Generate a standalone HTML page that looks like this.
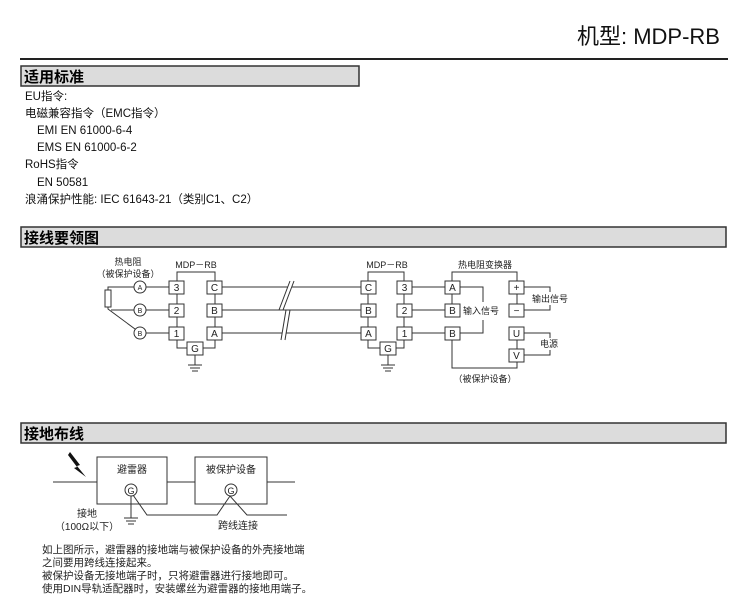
<!DOCTYPE html>
<html><head><meta charset="utf-8"><style>
body{margin:0;background:#fff;}
svg{display:block;font-family:"Liberation Sans","Noto Sans CJK SC",sans-serif;}
</style></head><body>
<svg width="745" height="614" viewBox="0 0 745 614" xmlns="http://www.w3.org/2000/svg">
<g fill="#111">
<text x="720" y="44" font-size="22" text-anchor="end">机型: MDP-RB</text>
</g>
<line x1="20" y1="59" x2="728" y2="59" stroke="#222" stroke-width="2"/>
<rect x="21" y="66" width="338" height="20" fill="#dcdcdc" stroke="#333" stroke-width="1.5"/>
<text x="24" y="82" font-size="15" font-weight="bold">适用标准</text>
<rect x="21" y="227" width="705" height="20" fill="#dcdcdc" stroke="#333" stroke-width="1.5"/>
<text x="24" y="243" font-size="15" font-weight="bold">接线要领图</text>
<rect x="21" y="423" width="705" height="20" fill="#dcdcdc" stroke="#333" stroke-width="1.5"/>
<text x="24" y="439" font-size="15" font-weight="bold">接地布线</text>
<g font-size="11.5" fill="#111">
<text x="25" y="100">EU指令:</text>
<text x="25" y="117">电磁兼容指令（EMC指令）</text>
<text x="37" y="134">EMI EN 61000-6-4</text>
<text x="37" y="151">EMS EN 61000-6-2</text>
<text x="25" y="168">RoHS指令</text>
<text x="37" y="186">EN 50581</text>
<text x="25" y="203">浪涌保护性能: IEC 61643-21（类别C1、C2）</text>
</g>
<g stroke="#333" stroke-width="1" fill="none">
<rect x="105" y="290" width="6" height="17" fill="#fff"/>
<polyline points="108,290 108,287 134,287"/>
<line x1="111" y1="310" x2="134" y2="310"/>
<polyline points="108,307 108,309 135,329"/>
<circle cx="140" cy="287" r="6" fill="#fff"/>
<circle cx="140" cy="310" r="6" fill="#fff"/>
<circle cx="140" cy="333" r="6" fill="#fff"/>
<line x1="146" y1="287" x2="169" y2="287"/>
<line x1="146" y1="310" x2="169" y2="310"/>
<line x1="146" y1="333" x2="169" y2="333"/>
<polyline points="177,281 177,272 215,272 215,281"/>
<line x1="177" y1="293" x2="177" y2="304"/><line x1="177" y1="316" x2="177" y2="327"/>
<line x1="215" y1="293" x2="215" y2="304"/><line x1="215" y1="316" x2="215" y2="327"/>
<polyline points="177,339 177,348 187,348"/><polyline points="215,339 215,348 203,348"/>
<line x1="195" y1="355" x2="195" y2="365"/>
<line x1="188" y1="365" x2="202" y2="365"/><line x1="190" y1="368" x2="200" y2="368"/><line x1="192" y1="371" x2="198" y2="371"/>
<line x1="222" y1="287" x2="361" y2="287"/>
<line x1="222" y1="310" x2="361" y2="310"/>
<line x1="222" y1="333" x2="361" y2="333"/>
<polyline points="368,281 368,272 404,272 404,281"/>
<line x1="368" y1="293" x2="368" y2="304"/><line x1="368" y1="316" x2="368" y2="327"/>
<line x1="404" y1="293" x2="404" y2="304"/><line x1="404" y1="316" x2="404" y2="327"/>
<polyline points="368,339 368,348 380,348"/><polyline points="404,339 404,348 396,348"/>
<line x1="388" y1="355" x2="388" y2="365"/>
<line x1="381" y1="365" x2="395" y2="365"/><line x1="383" y1="368" x2="393" y2="368"/><line x1="385" y1="371" x2="391" y2="371"/>
<line x1="411" y1="287" x2="445" y2="287"/>
<line x1="411" y1="310" x2="445" y2="310"/>
<line x1="411" y1="333" x2="445" y2="333"/>
<polyline points="452,281 452,272 517,272 517,281"/>
<line x1="452" y1="293" x2="452" y2="304"/>
<line x1="517" y1="293" x2="517" y2="304"/><line x1="517" y1="339" x2="517" y2="349"/>
<polyline points="452,339 452,368 517,368 517,361"/>
<polyline points="460,287 483,287 483,302"/>
<polyline points="460,333 483,333 483,320"/>
<polyline points="524,287 550,287 550,292"/>
<polyline points="524,310 550,310 550,305"/>
<polyline points="524,333 550,333 550,338"/>
<polyline points="524,355 550,355 550,350"/>
</g>
<polygon points="281,340 286,310 279,310 290,281 294,281 283,310 290,310 285,340" fill="#fff"/>
<polyline points="281,340 286,310 279,310 290,281" stroke="#333" fill="none"/>
<polyline points="285,340 290,310 283,310 294,281" stroke="#333" fill="none"/>
<g stroke="#333" fill="#fff">
<rect x="169" y="281" width="15" height="13"/><rect x="169" y="304" width="15" height="13"/><rect x="169" y="327" width="15" height="13"/>
<rect x="207" y="281" width="15" height="13"/><rect x="207" y="304" width="15" height="13"/><rect x="207" y="327" width="15" height="13"/>
<rect x="187" y="342" width="16" height="13"/>
<rect x="361" y="281" width="15" height="13"/><rect x="361" y="304" width="15" height="13"/><rect x="361" y="327" width="15" height="13"/>
<rect x="397" y="281" width="15" height="13"/><rect x="397" y="304" width="15" height="13"/><rect x="397" y="327" width="15" height="13"/>
<rect x="380" y="342" width="16" height="13"/>
<rect x="445" y="281" width="15" height="13"/><rect x="445" y="304" width="15" height="13"/><rect x="445" y="327" width="15" height="13"/>
<rect x="509" y="281" width="15" height="13"/><rect x="509" y="304" width="15" height="13"/><rect x="509" y="327" width="15" height="13"/><rect x="509" y="349" width="15" height="13"/>
</g>
<g font-size="10" fill="#222" text-anchor="middle">
<text x="176.5" y="291">3</text><text x="176.5" y="314">2</text><text x="176.5" y="337">1</text>
<text x="214.5" y="291">C</text><text x="214.5" y="314">B</text><text x="214.5" y="337">A</text>
<text x="195" y="352">G</text>
<text x="368.5" y="291">C</text><text x="368.5" y="314">B</text><text x="368.5" y="337">A</text>
<text x="404.5" y="291">3</text><text x="404.5" y="314">2</text><text x="404.5" y="337">1</text>
<text x="388" y="352">G</text>
<text x="452.5" y="291">A</text><text x="452.5" y="314">B</text><text x="452.5" y="337">B</text>
<text x="516.5" y="291">+</text><text x="516.5" y="314">−</text><text x="516.5" y="337">U</text><text x="516.5" y="359">V</text>
<g font-size="7"><text x="140" y="290">A</text><text x="140" y="313">B</text><text x="140" y="336">B</text></g>
<g font-size="9">
<text x="128" y="265">热电阻</text>
<text x="128" y="277">（被保护设备）</text>
<text x="196" y="268">MDP－RB</text>
<text x="387" y="268">MDP－RB</text>
<text x="485" y="268">热电阻变换器</text>
<text x="485" y="382">（被保护设备）</text>
</g>
</g>
<g font-size="9" fill="#222">
<text x="463" y="314">输入信号</text>
<text x="532" y="302">输出信号</text>
<text x="540" y="347">电源</text>
</g>
<g stroke="#333" fill="none">
<line x1="53" y1="482" x2="97" y2="482"/>
<rect x="97" y="457" width="70" height="47"/>
<line x1="167" y1="482" x2="195" y2="482"/>
<rect x="195" y="457" width="72" height="47"/>
<line x1="267" y1="482" x2="295" y2="482"/>
<line x1="131" y1="496" x2="131" y2="518"/>
<line x1="124" y1="518" x2="138" y2="518"/><line x1="126" y1="521" x2="136" y2="521"/><line x1="128" y1="524" x2="134" y2="524"/>
<polyline points="133,495 147,515 217,515 230,496 247,515 287,515"/>
</g>
<circle cx="131" cy="490" r="6" fill="#fff" stroke="#333"/>
<circle cx="231" cy="490" r="6" fill="#fff" stroke="#333"/>
<polygon points="70,452 80,465 77,466 86,477 74,468 77,467 68,455" fill="#111"/>
<g font-size="10" fill="#222" text-anchor="middle">
<text x="132" y="473">避雷器</text>
<text x="231" y="473">被保护设备</text>
<text x="131" y="494" font-size="9">G</text>
<text x="231" y="494" font-size="9">G</text>
<text x="87" y="517">接地</text>
<text x="87" y="530">（100Ω以下）</text>
<text x="238" y="529">跨线连接</text>
</g>
<g font-size="10.5" fill="#222">
<text x="42" y="553">如上图所示，避雷器的接地端与被保护设备的外壳接地端</text>
<text x="42" y="566">之间要用跨线连接起来。</text>
<text x="42" y="579">被保护设备无接地端子时，只将避雷器进行接地即可。</text>
<text x="42" y="592">使用DIN导轨适配器时，安装螺丝为避雷器的接地用端子。</text>
</g>
</svg>
</body></html>
